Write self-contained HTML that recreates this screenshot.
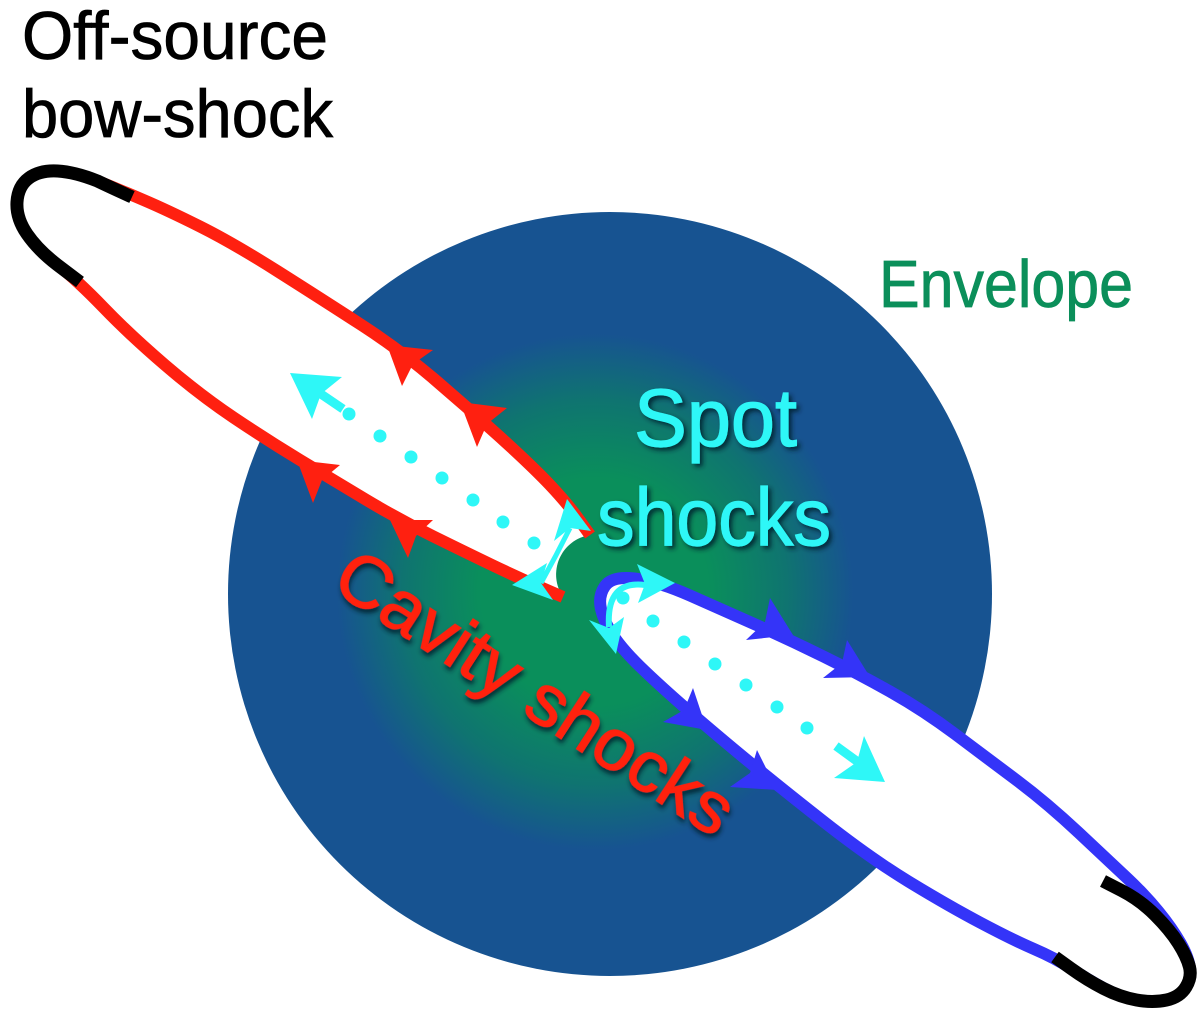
<!DOCTYPE html>
<html>
<head>
<meta charset="utf-8">
<style>
  html, body { margin:0; padding:0; background:#ffffff; }
  body { width:1200px; height:1014px; overflow:hidden; }
  svg { display:block; }
  text { font-family: "Liberation Sans", "DejaVu Sans", sans-serif; }
</style>
</head>
<body>
<svg width="1200" height="1014" viewBox="0 0 1200 1014" xmlns="http://www.w3.org/2000/svg">
  <defs>
    <radialGradient id="env" gradientUnits="userSpaceOnUse" cx="595" cy="592" r="300">
      <stop offset="0" stop-color="#0a8f5b"/>
      <stop offset="0.38" stop-color="#0a8f5b"/>
      <stop offset="0.64" stop-color="#0f7470"/>
      <stop offset="0.86" stop-color="#175391"/>
      <stop offset="1" stop-color="#175391"/>
    </radialGradient>
    <filter id="sh" x="-20%" y="-30%" width="150%" height="170%">
      <feGaussianBlur in="SourceAlpha" stdDeviation="2.5"/>
      <feOffset dx="3" dy="3" result="b"/>
      <feFlood flood-color="#05202e" flood-opacity="0.85"/>
      <feComposite in2="b" operator="in"/>
      <feMerge><feMergeNode/><feMergeNode in="SourceGraphic"/></feMerge>
    </filter>
  </defs>

  <!-- Envelope -->
  <circle cx="610" cy="594" r="382" fill="url(#env)"/>

  <!-- Red lobe fill -->
  <path fill="#ffffff" d="M590,535 L578.5,519 Q567,503 550,485 Q533,467 500,437 Q467,407 433.5,378.5 Q400,350 361.5,325 Q323,300 278,271.5 Q233,243 200,226.5 Q167,210 143.5,200 Q120,190 97.5,181 Q75,172 57.5,171 Q40,170 29,178 Q18,186 17,202 Q16,218 27,234 Q38,250 57.5,265 Q77,280 103.5,307.5 Q130,335 165,365 Q200,395 233.5,417.5 Q267,440 300,460 Q333,480 366.5,500 Q400,520 433.5,536.5 Q467,553 492,565 Q517,577 540,587 L563,597 A40,40 0 0 1 590,535 Z"/>
  <!-- Red lobe stroke -->
  <path fill="none" stroke="#ff2010" stroke-width="12" stroke-linejoin="round" d="M590,535 L578.5,519 Q567,503 550,485 Q533,467 500,437 Q467,407 433.5,378.5 Q400,350 361.5,325 Q323,300 278,271.5 Q233,243 200,226.5 Q167,210 143.5,200 Q120,190 97.5,181 Q75,172 57.5,171 Q40,170 29,178 Q18,186 17,202 Q16,218 27,234 Q38,250 57.5,265 Q77,280 103.5,307.5 Q130,335 165,365 Q200,395 233.5,417.5 Q267,440 300,460 Q333,480 366.5,500 Q400,520 433.5,536.5 Q467,553 492,565 Q517,577 540,587 L563,597"/>

  <!-- Red arrowheads -->
  <g fill="#ff2010">
    <polygon points="387,345 433,350 413,364 402,386"/>
    <polygon points="460,402 507,408 487,424 477,447"/>
    <polygon points="297,460 340,465 322,480 313,503"/>
    <polygon points="390,520 433,520 416,536 408,558"/>
  </g>

  <!-- Blue lobe -->
  <path fill="#ffffff" stroke="#3434f8" stroke-width="12" stroke-linejoin="round" d="M605,586 Q612,576 634.5,578.5 Q657,581 690,595.5 Q723,610 756.5,625 Q790,640 823.5,656.5 Q857,673 890,691.5 Q923,710 955,734 Q987,758 1017,780.5 Q1047,803 1078.5,832.5 Q1110,862 1127.5,878.5 Q1145,895 1158.5,911.5 Q1172,928 1180.5,943 Q1189,958 1190,969 Q1191,980 1184.5,989 Q1178,998 1164,1000.5 Q1150,1003 1134,999.5 Q1118,996 1102.5,987.5 Q1087,979 1071,968.5 Q1055,958 1034,949 Q1013,940 980,922.5 Q947,905 908.5,881.5 Q870,858 823.5,821.5 Q777,785 742,756 Q707,727 682,705 Q657,683 640,666.5 Q623,650 613.5,636 Q604,622 601,609 Q598,596 605,586 Z"/>

  <!-- Blue arrowheads -->
  <g fill="#3434f8">
    <polygon points="793,635 770,598 765,622 746,640"/>
    <polygon points="870,677 847,640 842,663 823,678"/>
    <polygon points="707,730 693,688 684,710 663,722"/>
    <polygon points="777,790 757,750 750,773 730,787"/>
  </g>

  <!-- Black bow-shock arcs -->
  <path fill="none" stroke="#000000" stroke-width="13" d="M132,197 Q110,187 97.5,181 Q75,172 57.5,171 Q40,170 29,178 Q18,186 17,202 Q16,218 27,234 Q38,250 57.5,265 L80,282"/>
  <path fill="none" stroke="#000000" stroke-width="13" d="M1103,881 L1121.5,890.5 Q1140,900 1155,915 Q1170,930 1178.5,943.5 Q1187,957 1189.5,967 Q1192,977 1186,987 Q1180,997 1166.5,1000 Q1153,1003 1136.5,1000 Q1120,997 1103.5,988.5 Q1087,980 1071,968.5 L1055,957"/>

  <!-- Cyan dotted arrows -->
  <g fill="#2ef7f7">
    <circle cx="349" cy="414" r="6.5"/>
    <circle cx="380" cy="436" r="6.5"/>
    <circle cx="411" cy="457" r="6.5"/>
    <circle cx="442" cy="478" r="6.5"/>
    <circle cx="473" cy="500" r="6.5"/>
    <circle cx="503" cy="522" r="6.5"/>
    <circle cx="534" cy="543" r="6.5"/>
    <polygon points="290,373 342,377 321,394 312,419"/>

    <circle cx="623" cy="598" r="6.5"/>
    <circle cx="653" cy="621" r="6.5"/>
    <circle cx="684" cy="642" r="6.5"/>
    <circle cx="715" cy="664" r="6.5"/>
    <circle cx="746" cy="685" r="6.5"/>
    <circle cx="777" cy="707" r="6.5"/>
    <circle cx="807" cy="728" r="6.5"/>
    <polygon points="885,782 864,736 857,762 834,778"/>

    <!-- spot shock arrowheads -->
    <polygon points="567,499 591,531 570,528 554,541"/>
    <polygon points="512,585 547,563 541,583 553,600"/>
    <polygon points="675,583 637,564 645,584 638,603"/>
    <polygon points="616,654 589,620 609,628 624,617"/>
  </g>
  <g stroke="#2ef7f7" fill="none" stroke-linecap="butt">
    <line x1="318" y1="392" x2="343" y2="409" stroke-width="9"/>
    <line x1="836" y1="746" x2="858" y2="762" stroke-width="9"/>
    <path d="M570,528 Q556,556 541,583" stroke-width="5"/>
    <path d="M645,585 Q606,580 609,627" stroke-width="6"/>
  </g>

  <!-- Labels -->
  <text x="22" y="59" font-size="68" fill="#000000" stroke="#000000" stroke-width="0.8" textLength="306" lengthAdjust="spacingAndGlyphs">Off-source</text>
  <text x="22" y="137" font-size="68" fill="#000000" stroke="#000000" stroke-width="0.8" textLength="311" lengthAdjust="spacingAndGlyphs">bow-shock</text>
  <text x="879" y="307" font-size="67" fill="#0b8f5a" stroke="#0b8f5a" stroke-width="0.8" textLength="254" lengthAdjust="spacingAndGlyphs">Envelope</text>

  <g filter="url(#sh)">
    <text x="634" y="446" font-size="82" fill="#2ef7f7" stroke="#2ef7f7" stroke-width="1.2" textLength="163" lengthAdjust="spacingAndGlyphs">Spot</text>
    <text x="597" y="545" font-size="82" fill="#2ef7f7" stroke="#2ef7f7" stroke-width="1.2" textLength="234" lengthAdjust="spacingAndGlyphs">shocks</text>
  </g>

  <g transform="rotate(33 329 588)" filter="url(#sh)">
    <text x="329" y="588" font-size="72" fill="#ff2010" stroke="#ff2010" stroke-width="1.2" textLength="460" lengthAdjust="spacingAndGlyphs">Cavity shocks</text>
  </g>
</svg>
</body>
</html>
